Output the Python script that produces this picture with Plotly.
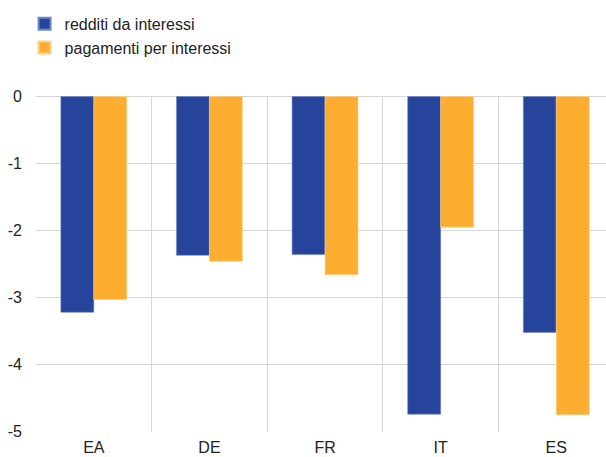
import plotly.graph_objects as go

countries = ["EA", "DE", "FR", "IT", "ES"]
redditi = [-3.22, -2.37, -2.36, -4.74, -3.52]
pagamenti = [-3.03, -2.46, -2.66, -1.95, -4.75]
series_names = ["redditi da interessi", "pagamenti per interessi"]
y_ticks = [0, -1, -2, -3, -4, -5]

xpos = list(range(len(countries)))

fig = go.Figure()
fig.add_trace(go.Bar(x=xpos, y=redditi, name=series_names[0],
                     marker=dict(color="#26449c", line=dict(color="#6f86c4", width=0.6))))
fig.add_trace(go.Bar(x=xpos, y=pagamenti, name=series_names[1],
                     marker=dict(color="#fdae30", line=dict(color="#fdd08a", width=0.6))))

fig.update_layout(
    width=606, height=457,
    margin=dict(l=36, r=0, t=96, b=25),
    barmode="group", bargap=0.43, bargroupgap=0,
    paper_bgcolor="white", plot_bgcolor="white",
    font=dict(family="Liberation Sans, Arial, sans-serif", size=16, color="#222222"),
    legend=dict(x=-0.02, y=0.985, yref="container", xanchor="left", yanchor="top",
                font=dict(size=16, color="#222222"), tracegroupgap=0,
                itemsizing="constant", bgcolor="rgba(0,0,0,0)"),
    showlegend=True,
)
fig.update_xaxes(
    range=[-0.5, 4.43], tickmode="array", tickvals=xpos, ticktext=countries,
    showgrid=False, zeroline=False, showline=False, ticks="",
    ticklabelstandoff=4,
    minor=dict(tick0=-0.5, dtick=1, showgrid=True, gridcolor="#d6d6d6", gridwidth=1.3, ticks=""),
)
fig.update_yaxes(
    range=[-5.006, 0.006], tickmode="array", tickvals=y_ticks,
    ticktext=[str(v) for v in y_ticks],
    showgrid=True, gridcolor="#d6d6d6", gridwidth=1.3,
    zeroline=True, zerolinecolor="#d6d6d6", zerolinewidth=1.3,
    showline=False, ticks="", ticklabelstandoff=13,
)

fig.write_html("out.html")
